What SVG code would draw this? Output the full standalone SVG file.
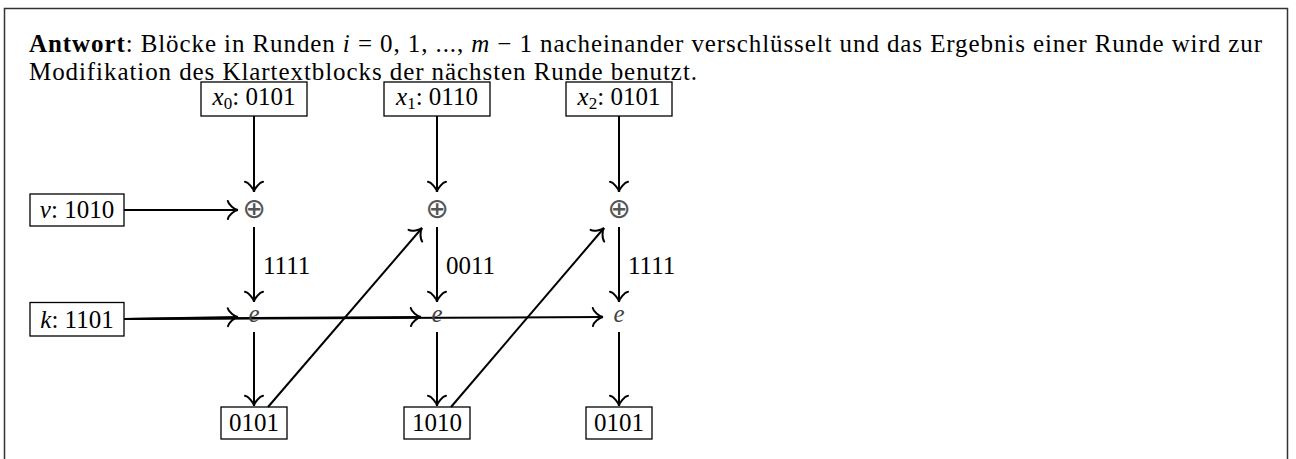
<svg xmlns="http://www.w3.org/2000/svg" width="1296" height="459" viewBox="0 0 1296 459">
<style>
.t{font-family:"Liberation Serif","Times New Roman",serif;font-size:25px;fill:#000}
.it{font-style:italic}
.b{font-weight:bold}
.box{fill:none;stroke:#000;stroke-width:1.3}
.op{font-family:"DejaVu Sans",sans-serif;font-size:28px;fill:#555}
.ev{font-family:"Liberation Serif",serif;font-style:italic;font-size:25px;fill:#444}
.c{fill:none;stroke:#000;stroke-width:2;marker-end:url(#arr)}
</style>
<defs>
<marker id="arr" markerUnits="userSpaceOnUse" viewBox="-8 -11 13 22" markerWidth="13" markerHeight="22" refX="3.4" refY="0" orient="auto" overflow="visible">
<path d="M-6.75,9 C-6.2,5.6 0,0.3 3.4,0 C0,-0.3 -6.2,-5.6 -6.75,-9" fill="none" stroke="#000" stroke-width="2" stroke-linecap="round"/>
</marker>
</defs>
<rect width="1296" height="459" fill="#fff"/>
<path d="M4.5,459 V8.5 H1287.5 V459" fill="none" stroke="#333" stroke-width="1.5"/>
<g id="caption">
<text class="t" x="29" y="52" textLength="1233" lengthAdjust="spacing"><tspan class="b">Antwort</tspan>: Blöcke in Runden <tspan class="it">i</tspan> = 0, 1, ..., <tspan class="it">m</tspan> − 1 nacheinander verschlüsselt und das Ergebnis einer Runde wird zur</text>
<text class="t" x="29" y="80" textLength="668" lengthAdjust="spacing">Modifikation des Klartextblocks der nächsten Runde benutzt.</text>
</g>
<g id="connectors">
<path class="c" d="M254,116 V192"/>
<path class="c" d="M437,116 V192"/>
<path class="c" d="M619,116 V192"/>
<path class="c" d="M124,210 H238"/>
<path class="c" d="M254,227 V302"/>
<path class="c" d="M437,227 V302"/>
<path class="c" d="M619,227 V302"/>
<path class="c" d="M124,319 L238,317"/>
<path class="c" d="M124,319 L421,317"/>
<path class="c" d="M124,319 L603,317"/>
<path class="c" d="M254,332 V406"/>
<path class="c" d="M437,332 V406"/>
<path class="c" d="M619,332 V406"/>
<path class="c" d="M268,407 L422,228"/>
<path class="c" d="M451,407 L604,228"/>
<text class="t" x="263" y="274">1111</text>
<text class="t" x="446" y="274">0011</text>
<text class="t" x="628" y="274">1111</text>
</g>
<g id="x0"><rect class="box" x="201" y="82" width="106" height="34"/><text class="t" x="254" y="105" text-anchor="middle"><tspan class="it">x</tspan><tspan font-size="17" dy="4">0</tspan><tspan dy="-4">: 0101</tspan></text></g>
<g id="x1"><rect class="box" x="384" y="82" width="106" height="34"/><text class="t" x="437" y="105" text-anchor="middle"><tspan class="it">x</tspan><tspan font-size="17" dy="4">1</tspan><tspan dy="-4">: 0110</tspan></text></g>
<g id="x2"><rect class="box" x="566" y="82" width="106" height="34"/><text class="t" x="619" y="105" text-anchor="middle"><tspan class="it">x</tspan><tspan font-size="17" dy="4">2</tspan><tspan dy="-4">: 0101</tspan></text></g>
<g id="v"><rect class="box" x="30" y="194" width="94" height="32"/><text class="t" x="77" y="218" text-anchor="middle"><tspan class="it">v</tspan>: 1010</text></g>
<g id="k"><rect class="box" x="30" y="302.5" width="94" height="33.5"/><text class="t" x="77" y="328" text-anchor="middle"><tspan class="it">k</tspan>: 1101</text></g>
<g id="xor1"><text class="op" x="254" y="218.3" text-anchor="middle">⊕</text></g>
<g id="xor2"><text class="op" x="437" y="218.3" text-anchor="middle">⊕</text></g>
<g id="xor3"><text class="op" x="619" y="218.3" text-anchor="middle">⊕</text></g>
<g id="e1"><text class="ev" x="254" y="322" text-anchor="middle">e</text></g>
<g id="e2"><text class="ev" x="437" y="322" text-anchor="middle">e</text></g>
<g id="e3"><text class="ev" x="619" y="322" text-anchor="middle">e</text></g>
<g id="y0"><rect class="box" x="221" y="407" width="66" height="32"/><text class="t" x="254" y="431" text-anchor="middle">0101</text></g>
<g id="y1"><rect class="box" x="404" y="407" width="66" height="32"/><text class="t" x="437" y="431" text-anchor="middle">1010</text></g>
<g id="y2"><rect class="box" x="586" y="407" width="66" height="32"/><text class="t" x="619" y="431" text-anchor="middle">0101</text></g>
</svg>
